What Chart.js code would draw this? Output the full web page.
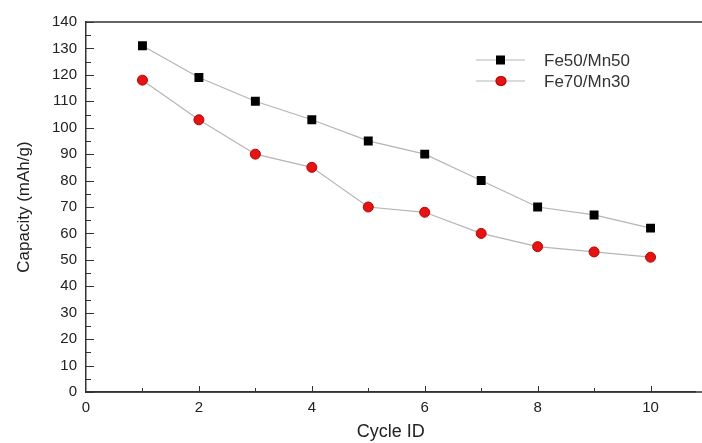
<!DOCTYPE html>
<html>
<head>
<meta charset="utf-8">
<script src="https://cdn.jsdelivr.net/npm/chart.js@4.4.0/dist/chart.umd.min.js"></script>
<style>
  html, body { margin: 0; padding: 0; background: #fff; }
  #wrap { width: 702px; height: 443px; }
</style>
</head>
<body>
<div id="wrap"><canvas id="chart" width="702" height="443"></canvas></div>
<script>
const cycles = [1, 2, 3, 4, 5, 6, 7, 8, 9, 10];
const fe50mn50 = [131, 119, 110, 103, 95, 90, 80, 70, 67, 62];
const fe70mn30 = [118, 103, 90, 85, 70, 68, 60, 55, 53, 51];
const xTicks = [0, 2, 4, 6, 8, 10];
const yTicks = [0, 10, 20, 30, 40, 50, 60, 70, 80, 90, 100, 110, 120, 130, 140];

const FONT = 'Liberation Sans, Arial, sans-serif';

// inward ticks (major + minor) and the top frame line
const frame = {
    id: 'frame',
    afterDraw(chart) {
        const ctx = chart.ctx;
        const a = chart.chartArea;
        const xs = chart.scales.x;
        const ys = chart.scales.y;
        ctx.save();
        ctx.strokeStyle = '#333';
        ctx.lineWidth = 1.5;
        ctx.beginPath();
        ctx.moveTo(a.left, a.top);
        ctx.lineTo(chart.width, a.top);
        ctx.moveTo(a.left, a.bottom);
        ctx.lineTo(chart.width, a.bottom);
        ctx.stroke();

        ctx.lineWidth = 1;
        ctx.beginPath();
        for (let v = 0; v <= 140; v += 5) {
            const y = Math.round(ys.getPixelForValue(v)) + 0.5;
            const len = v % 10 === 0 ? 8 : 5;
            ctx.moveTo(a.left, y);
            ctx.lineTo(a.left + len, y);
        }
        for (let v = 1; v <= 10; v++) {
            const x = Math.round(xs.getPixelForValue(v)) + 0.5;
            const len = v % 2 === 0 ? 6 : 4;
            ctx.moveTo(x, a.bottom);
            ctx.lineTo(x, a.bottom - len);
        }
        ctx.stroke();
        ctx.restore();
    }
};

new Chart(document.getElementById('chart'), {
    type: 'line',
    data: {
        datasets: [{
            label: 'Fe50/Mn50',
            data: cycles.map((c, i) => ({ x: c, y: fe50mn50[i] })),
            borderColor: '#b5b5b5',
            borderWidth: 1.2,
            pointStyle: 'rect',
            pointRadius: 6.3,
            pointBackgroundColor: '#000',
            pointBorderColor: '#000',
            pointBorderWidth: 0,
            tension: 0
        }, {
            label: 'Fe70/Mn30',
            data: cycles.map((c, i) => ({ x: c, y: fe70mn30[i] })),
            borderColor: '#b5b5b5',
            borderWidth: 1.2,
            pointStyle: 'circle',
            pointRadius: 5,
            pointBackgroundColor: '#e31414',
            pointBorderColor: '#c00000',
            pointBorderWidth: 1,
            tension: 0
        }]
    },
    options: {
        responsive: false,
        animation: false,
        layout: { padding: { top: 22, right: 0, left: 14, bottom: 0 } },
        plugins: {
            legend: { display: false },
            tooltip: { enabled: false }
        },
        scales: {
            x: {
                type: 'linear',
                min: 0,
                max: 10.8,
                afterBuildTicks: s => { s.ticks = xTicks.map(v => ({ value: v })); },
                afterFit: s => { s.height = 51; },
                grid: { display: true, drawOnChartArea: false, drawTicks: false, color: '#333' },
                border: { display: true, color: '#333', width: 1.5 },
                ticks: { color: '#222', font: { family: FONT, size: 15 }, padding: 7 },
                title: {
                    display: true, text: 'Cycle ID', color: '#222',
                    font: { family: FONT, size: 18 }, padding: { top: 3, bottom: 0 }
                }
            },
            y: {
                min: 0,
                max: 140,
                afterBuildTicks: s => { s.ticks = yTicks.map(v => ({ value: v })); },
                afterFit: s => { s.width = 72; },
                grid: { display: true, drawOnChartArea: false, drawTicks: false, color: '#333' },
                border: { display: true, color: '#333', width: 1.5 },
                ticks: { color: '#222', font: { family: FONT, size: 15 }, padding: 9 },
                title: {
                    display: true, text: 'Capacity (mAh/g)', color: '#222',
                    font: { family: FONT, size: 17 }, padding: { top: 0, bottom: 8 }
                }
            }
        }
    },
    plugins: [frame, {
        id: 'legendBox',
        afterDraw(chart) {
            // legend drawn from the dataset styles
            const ctx = chart.ctx;
            ctx.save();
            chart.data.datasets.forEach((ds, i) => {
                const y = 60 + i * 21;
                ctx.strokeStyle = ds.borderColor;
                ctx.lineWidth = 1.2;
                ctx.beginPath();
                ctx.moveTo(476, y);
                ctx.lineTo(525, y);
                ctx.stroke();
                ctx.fillStyle = ds.pointBackgroundColor;
                ctx.strokeStyle = ds.pointBorderColor;
                if (ds.pointStyle === 'rect') {
                    ctx.fillRect(496, y - 4.5, 9, 9);
                } else {
                    ctx.beginPath();
                    ctx.ellipse(501, y, 5, 4.5, 0, 0, Math.PI * 2);
                    ctx.fill();
                    ctx.stroke();
                }
                ctx.fillStyle = '#333';
                ctx.font = '17px ' + FONT;
                ctx.textBaseline = 'middle';
                ctx.fillText(ds.label, 544, y + 1);
            });
            ctx.restore();
        }
    }]
});
</script>
</body>
</html>
